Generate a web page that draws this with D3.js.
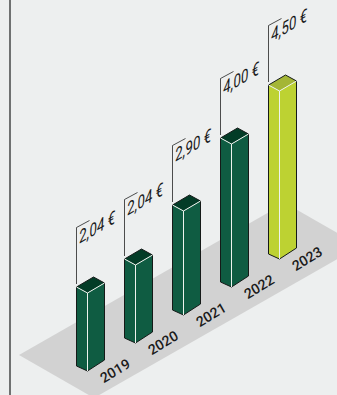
<!DOCTYPE html>
<html><head><meta charset="utf-8">
<script src="https://cdn.jsdelivr.net/npm/d3@7"></script>
<style>html,body{margin:0;padding:0;background:#edefef}svg{display:block}</style>
</head><body><div id="c"></div>
<script>
const years = ["2019","2020","2021","2022","2023"];
const values = [2.04,2.04,2.90,4.00,4.50];
const labels = ["2,04 €","2,04 €","2,90 €","4,00 €","4,50 €"];
const W=337,H=395;
const svg=d3.select("#c").append("svg").attr("width",W).attr("height",H);
const bx=d3.scaleLinear().domain([0,4]).range([87.5,279.5]);
const by=d3.scaleLinear().domain([0,4]).range([371,259]);
const h=d3.scaleLinear().domain([0,2.04,2.9,4,4.5]).range([0,78,104,143,168]);
const line=d3.line();
svg.append("line").attr("x1",10).attr("x2",10).attr("y1",0).attr("y2",H).attr("stroke","#6f7171").attr("stroke-width",2);
svg.append("path").attr("d",line([[19,355],[285,203],[360,246],[94,398]])+"Z").attr("fill","#d2d2d2");
const L=11,R=17;
const g=svg.selectAll("g.b").data(values).join("g");
g.each(function(v,i){
  const s=d3.select(this),x=bx(i),y=by(i),t=y-h(v);
  const front=i==4?"#bdd232":"#0f5c42",top=i==4?"#a4b636":"#033c27";
  s.append("path").attr("d",line([[x-L,y-5],[x,y],[x+R,y-11],[x+R,t-10],[x,t],[x-L,t-6]])+"Z").attr("fill",front);
  s.append("path").attr("d",line([[x-L,t-6],[x-L+17,t-16],[x+R,t-10],[x,t]])+"Z").attr("fill",top);
  s.append("path").attr("d",line([[x-L,t-6],[x-L,y-5],[x,y],[x+R,y-11],[x+R,t-10],[x-L+17,t-16],[x-L,t-6]])).attr("fill","none").attr("stroke","#151a18").attr("stroke-width",1);
  s.append("path").attr("d",line([[x-L,t-6],[x,t],[x+R,t-10]])+"M"+x+","+t+"L"+x+","+y).attr("fill","none").attr("stroke","#eef3ee").attr("stroke-width",1);
  const lx=x-L, ly=t-6-59.5;
  s.append("path").attr("d",line([[lx,t-9],[lx,ly],[lx+13,ly-7]])).attr("fill","none").attr("stroke","#222").attr("stroke-width",.8);
  s.append("text").text(labels[i]).attr("transform",`translate(${lx+3},${ly+16}) matrix(0.95,-0.55,0.08,1.2,0,0)`)
    .attr("font-family","Roboto").attr("font-style","italic").attr("font-weight",400).attr("font-size",14.5).attr("fill","#1a1a1a");
  s.append("text").text(years[i]).attr("text-anchor","middle").attr("transform",`translate(${x+30},${y+4}) matrix(0.87,-0.53,0.5,0.87,0,0)`)
    .attr("font-family","Roboto").attr("font-weight",500).attr("font-size",14).attr("fill","#1a1a1a");
});
</script></body></html>
